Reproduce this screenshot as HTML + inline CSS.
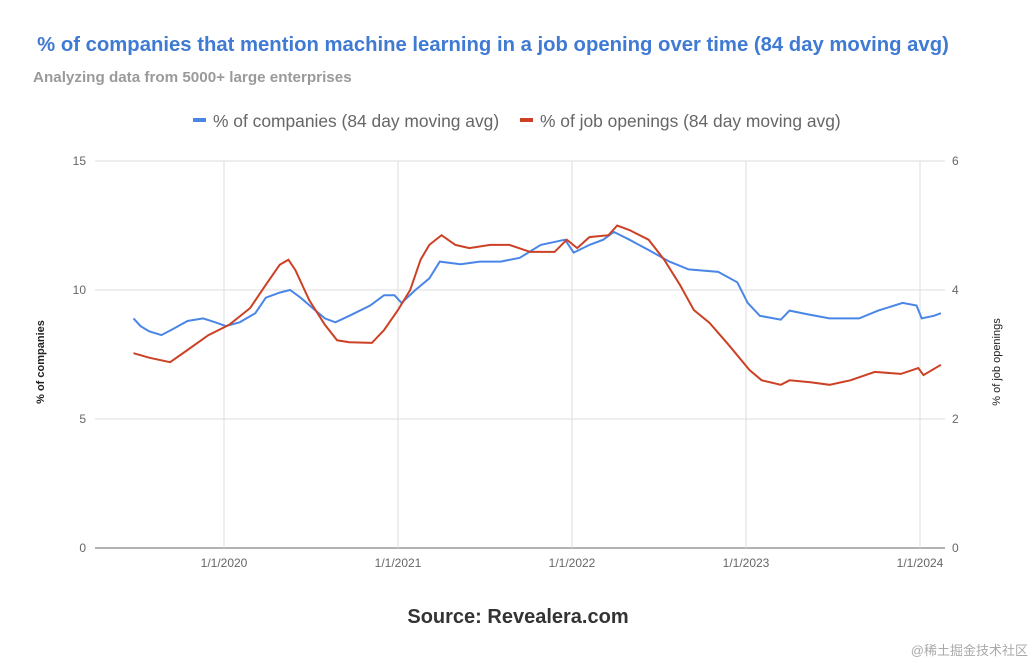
<!DOCTYPE html>
<html><head><meta charset="utf-8">
<style>
body{margin:0;background:#fff;width:1036px;height:663px;overflow:hidden;font-family:"Liberation Sans",sans-serif}
svg{display:block}
</style></head><body>
<svg width="1036" height="663" id="chart">
<text x="493" y="51" text-anchor="middle" font-size="20.3" font-weight="bold" fill="#3f7ad3">% of companies that mention machine learning in a job opening over time (84 day moving avg)</text>
<text x="33" y="82" font-size="15.2" font-weight="bold" fill="#9a9a9a">Analyzing data from 5000+ large enterprises</text>
<g>
<g><rect x="193" y="118" width="13" height="4" fill="#4a86e8"/><text x="213" y="127" font-size="17.4" fill="#666">% of companies (84 day moving avg)</text></g>
<g><rect x="520" y="118" width="13" height="4" fill="#cc4125"/><text x="540" y="127" font-size="17.4" fill="#666">% of job openings (84 day moving avg)</text></g>
</g>
<g id="grid"></g>
<g id="axes"></g>
<path id="blue" fill="none" stroke="#4a86e8" stroke-width="2"/>
<path id="red" fill="none" stroke="#cc4125" stroke-width="2"/>
<text transform="translate(44,362) rotate(-90)" text-anchor="middle" font-size="11" font-weight="bold" fill="#222">% of companies</text>
<text transform="translate(1000,362) rotate(-90)" text-anchor="middle" font-size="11" fill="#222">% of job openings</text>
<text x="518" y="623" text-anchor="middle" font-size="20" font-weight="bold" fill="#333">Source: Revealera.com</text>
<text x="1028" y="655" text-anchor="end" font-size="13" fill="#aaa" font-family="'Liberation Sans','Noto Sans CJK SC',sans-serif">@稀土掘金技术社区</text>
</svg>
<script>
const leftTicks=[0,5,10,15];
const rightTicks=[0,2,4,6];
const xTickLabels=["1/1/2020","1/1/2021","1/1/2022","1/1/2023","1/1/2024"];
const xTickYears=[2020,2021,2022,2023,2024];
const blueX=[2019.48,2019.52,2019.57,2019.64,2019.71,2019.79,2019.88,2019.95,2020.01,2020.09,2020.18,2020.24,2020.32,2020.38,2020.44,2020.51,2020.58,2020.64,2020.72,2020.84,2020.92,2020.98,2021.02,2021.10,2021.18,2021.24,2021.36,2021.47,2021.59,2021.70,2021.82,2021.96,2022.01,2022.10,2022.18,2022.24,2022.33,2022.44,2022.56,2022.67,2022.84,2022.95,2023.01,2023.08,2023.20,2023.25,2023.36,2023.48,2023.65,2023.76,2023.90,2023.98,2024.01,2024.08,2024.12];
const blueY=[8.9,8.6,8.4,8.25,8.5,8.8,8.9,8.75,8.6,8.75,9.1,9.7,9.9,10.0,9.7,9.3,8.9,8.75,9.0,9.4,9.8,9.8,9.5,10.0,10.45,11.1,11.0,11.1,11.1,11.25,11.75,11.95,11.45,11.75,11.95,12.25,11.95,11.55,11.1,10.8,10.7,10.3,9.5,9.0,8.85,9.2,9.05,8.9,8.9,9.2,9.5,9.4,8.9,9.0,9.1];
const redX=[2019.48,2019.57,2019.69,2019.79,2019.91,2020.03,2020.15,2020.24,2020.32,2020.37,2020.41,2020.49,2020.58,2020.65,2020.72,2020.85,2020.92,2021.0,2021.07,2021.13,2021.18,2021.25,2021.33,2021.41,2021.53,2021.64,2021.76,2021.90,2021.97,2022.03,2022.10,2022.21,2022.26,2022.33,2022.44,2022.53,2022.62,2022.70,2022.79,2022.90,2023.02,2023.09,2023.20,2023.25,2023.37,2023.48,2023.60,2023.74,2023.89,2023.99,2024.02,2024.12];
const redY=[3.02,2.95,2.88,3.07,3.3,3.46,3.72,4.08,4.39,4.47,4.31,3.84,3.46,3.22,3.19,3.18,3.38,3.69,4.0,4.47,4.7,4.85,4.7,4.65,4.7,4.7,4.59,4.59,4.78,4.65,4.82,4.85,5.0,4.93,4.78,4.47,4.08,3.69,3.49,3.15,2.76,2.6,2.53,2.6,2.57,2.53,2.6,2.73,2.7,2.79,2.68,2.84];
const X0=95,X1=945,Y0=548,Y1=161;
const xs=y=>224+(y-2020)*174;
const yl=v=>Y0-(v/15)*(Y0-Y1);
const yr=v=>Y0-(v/6)*(Y0-Y1);
const NS="http://www.w3.org/2000/svg";
const grid=document.getElementById('grid'),axes=document.getElementById('axes');
function mk(tag,attrs,parent,txt){const e=document.createElementNS(NS,tag);for(const k in attrs)e.setAttribute(k,attrs[k]);if(txt!==undefined)e.textContent=txt;parent.appendChild(e);return e;}
leftTicks.forEach((t,i)=>{const y=yl(t);
 const g=mk('line',{x1:X0,x2:X1,y1:y,y2:y,stroke:i===0?'#666':'#ddd','stroke-width':1},grid);
 
 
 const l=mk('text',{x:86,y:y+4,'text-anchor':'end','font-size':12,fill:'#666'},axes,String(t));
 
 
 const r=mk('text',{x:952,y:yr(rightTicks[i])+4,'font-size':12,fill:'#666'},axes,String(rightTicks[i]));
 
 
});
xTickYears.forEach((yy,i)=>{const x=xs(yy);
 const g=mk('line',{x1:x,x2:x,y1:Y1,y2:Y0,stroke:'#ddd','stroke-width':1},grid);
 
 
 const l=mk('text',{x:x,y:567,'text-anchor':'middle','font-size':12,fill:'#666'},axes,xTickLabels[i]);
 
 
});
document.getElementById('blue').setAttribute('d',blueX.map((x,i)=>(i?'L':'M')+xs(x).toFixed(1)+','+yl(blueY[i]).toFixed(1)).join(''));
document.getElementById('red').setAttribute('d',redX.map((x,i)=>(i?'L':'M')+xs(x).toFixed(1)+','+yr(redY[i]).toFixed(1)).join(''));
</script>
</body></html>
